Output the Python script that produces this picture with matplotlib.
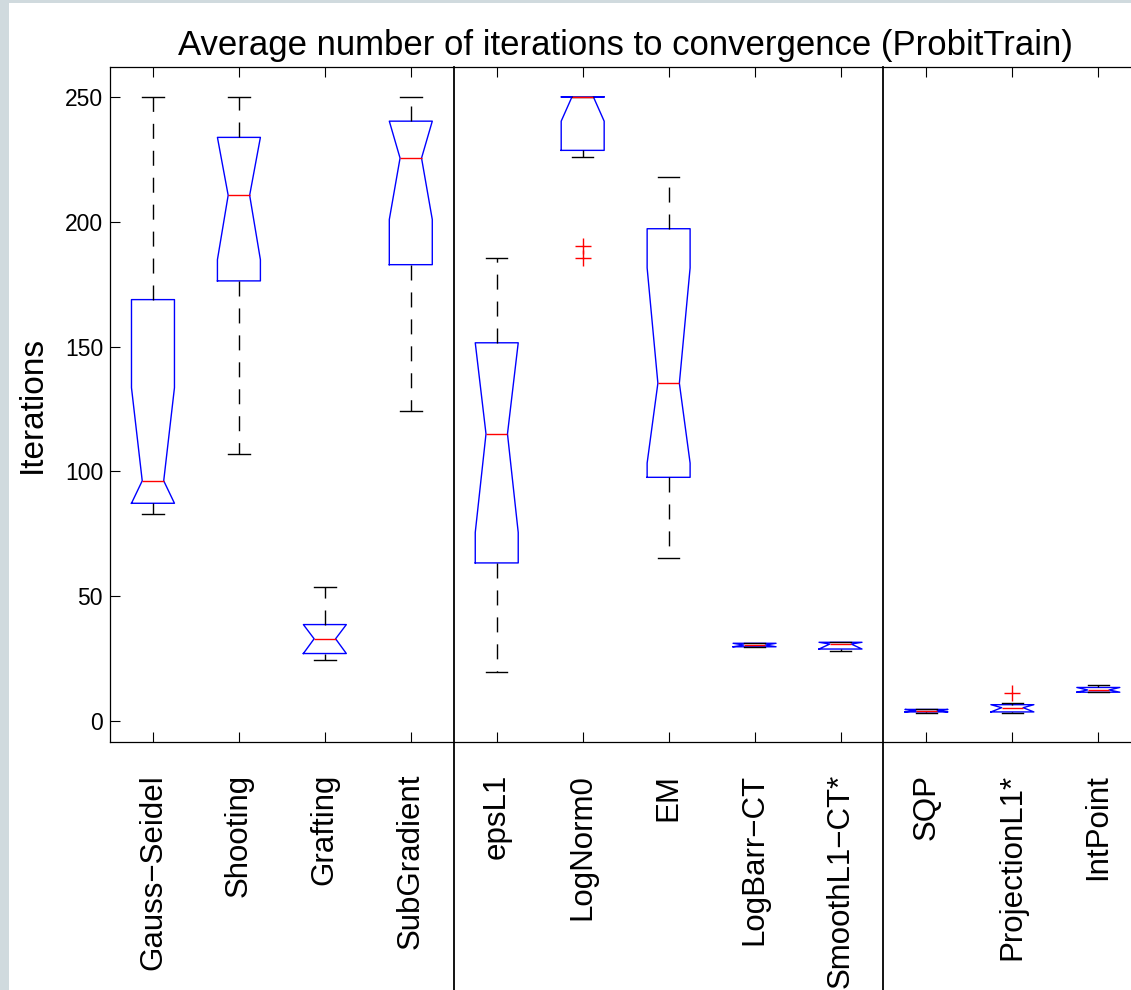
"""
Notched box plots of the iteration counts needed by each L1 solver on the
ProbitTrain problem, grouped into three solver families.
"""

import matplotlib
matplotlib.use("Agg")
import matplotlib.pyplot as plt
from matplotlib.patches import Rectangle

plt.rcParams["font.family"] = ["Liberation Sans", "DejaVu Sans"]

# ---- data -----------------------------------------------------------------
labels = ["Gauss\u2212Seidel", "Shooting", "Grafting", "SubGradient",
          "epsL1", "LogNorm0", "EM", "LogBarr\u2212CT", "SmoothL1\u2212CT*",
          "SQP", "ProjectionL1*", "IntPoint"]

whislo = [83.0, 106.9, 24.4, 124.0, 19.4, 226.1, 65.2, 29.7, 27.9, 3.3, 3.3, 11.5]
q1     = [87.2, 176.3, 27.0, 182.8, 63.3, 228.6, 97.6, 29.7, 28.8, 3.6, 3.6, 11.5]
med    = [96.2, 210.6, 32.9, 225.5, 115.0, 250.0, 135.3, 30.4, 30.8, 4.1, 5.3, 12.4]
q3     = [168.8, 233.8, 38.6, 240.3, 151.5, 250.0, 197.2, 31.1, 31.5, 4.6, 6.5, 13.4]
whishi = [250.0, 250.0, 53.7, 250.0, 185.6, 250.0, 218.0, 31.1, 31.5, 4.8, 7.3, 14.4]
# notch limits (clipped to the box where the interval runs past it)
cilo   = [87.2, 184.8, 27.0, 200.9, 75.5, 240.3, 103.3, 29.7, 28.8, 3.6, 3.6, 11.5]
cihi   = [133.5, 233.8, 38.6, 240.3, 151.5, 250.0, 181.5, 31.1, 31.5, 4.6, 6.5, 13.4]
fliers = [[], [], [], [], [], [190.3, 185.3], [], [], [], [], [11.2], []]

# family boundaries (between boxes)
group_breaks = [4.5, 9.5]

title = "Average number of iterations to convergence (ProbitTrain)"
ylabel = "Iterations"
yticks = [0, 50, 100, 150, 200, 250]

# ---- figure ---------------------------------------------------------------
W, H = 1131, 990
fig = plt.figure(figsize=(W / 100, H / 100), dpi=100, facecolor="white")

# light frame along the left and top edge
frame = "#d0dade"
fig.add_artist(Rectangle((0, 0), 9 / W, 1, transform=fig.transFigure,
                         facecolor=frame, edgecolor="none", zorder=-5))
fig.add_artist(Rectangle((0, 1 - 3 / H), 1, 3 / H, transform=fig.transFigure,
                         facecolor=frame, edgecolor="none", zorder=-5))

ax = fig.add_axes([110 / W, 248 / H, 1031.3 / W, 675 / H])

stats = []
for i, lab in enumerate(labels):
    stats.append(dict(label=lab, whislo=whislo[i], q1=q1[i], med=med[i],
                      q3=q3[i], whishi=whishi[i], cilo=cilo[i], cihi=cihi[i],
                      fliers=fliers[i]))

lw = 1.0
ax.bxp(stats, positions=range(1, len(labels) + 1), widths=0.5,
       shownotches=True, showfliers=True,
       boxprops=dict(color="blue", linewidth=lw),
       medianprops=dict(color="red", linewidth=lw),
       whiskerprops=dict(color="black", linewidth=lw,
                         linestyle=(0, (10.8, 8.6))),
       capprops=dict(color="black", linewidth=lw),
       flierprops=dict(marker="+", markeredgecolor="red", markersize=11,
                       markeredgewidth=1.0, linestyle="none"))

# vertical separators run from the top of the axes down through the labels
for xb in group_breaks:
    ax.plot([xb, xb], [1.0, -0.4], transform=ax.get_xaxis_transform(),
            color="black", linewidth=1.3, clip_on=False, zorder=5)

ax.set_xlim(0.5, 12.5)
ax.set_ylim(-8.45, 262)
ax.set_yticks(yticks)
ax.set_xticks(range(1, len(labels) + 1))
ax.set_xticklabels(labels, rotation=90, fontsize=22.5)

ax.tick_params(direction="in", length=7.2, width=0.8, top=True, right=True,
               colors="black", labelsize=16.5)
ax.tick_params(axis="x", pad=23, labelsize=22.5)
ax.tick_params(axis="y", pad=5)
for sp in ax.spines.values():
    sp.set_linewidth(0.9)

ax.set_ylabel(ylabel, fontsize=24, labelpad=12)
ax.set_title(title, fontsize=25, pad=9)

fig.savefig("out.png", dpi=100, facecolor=fig.get_facecolor())
